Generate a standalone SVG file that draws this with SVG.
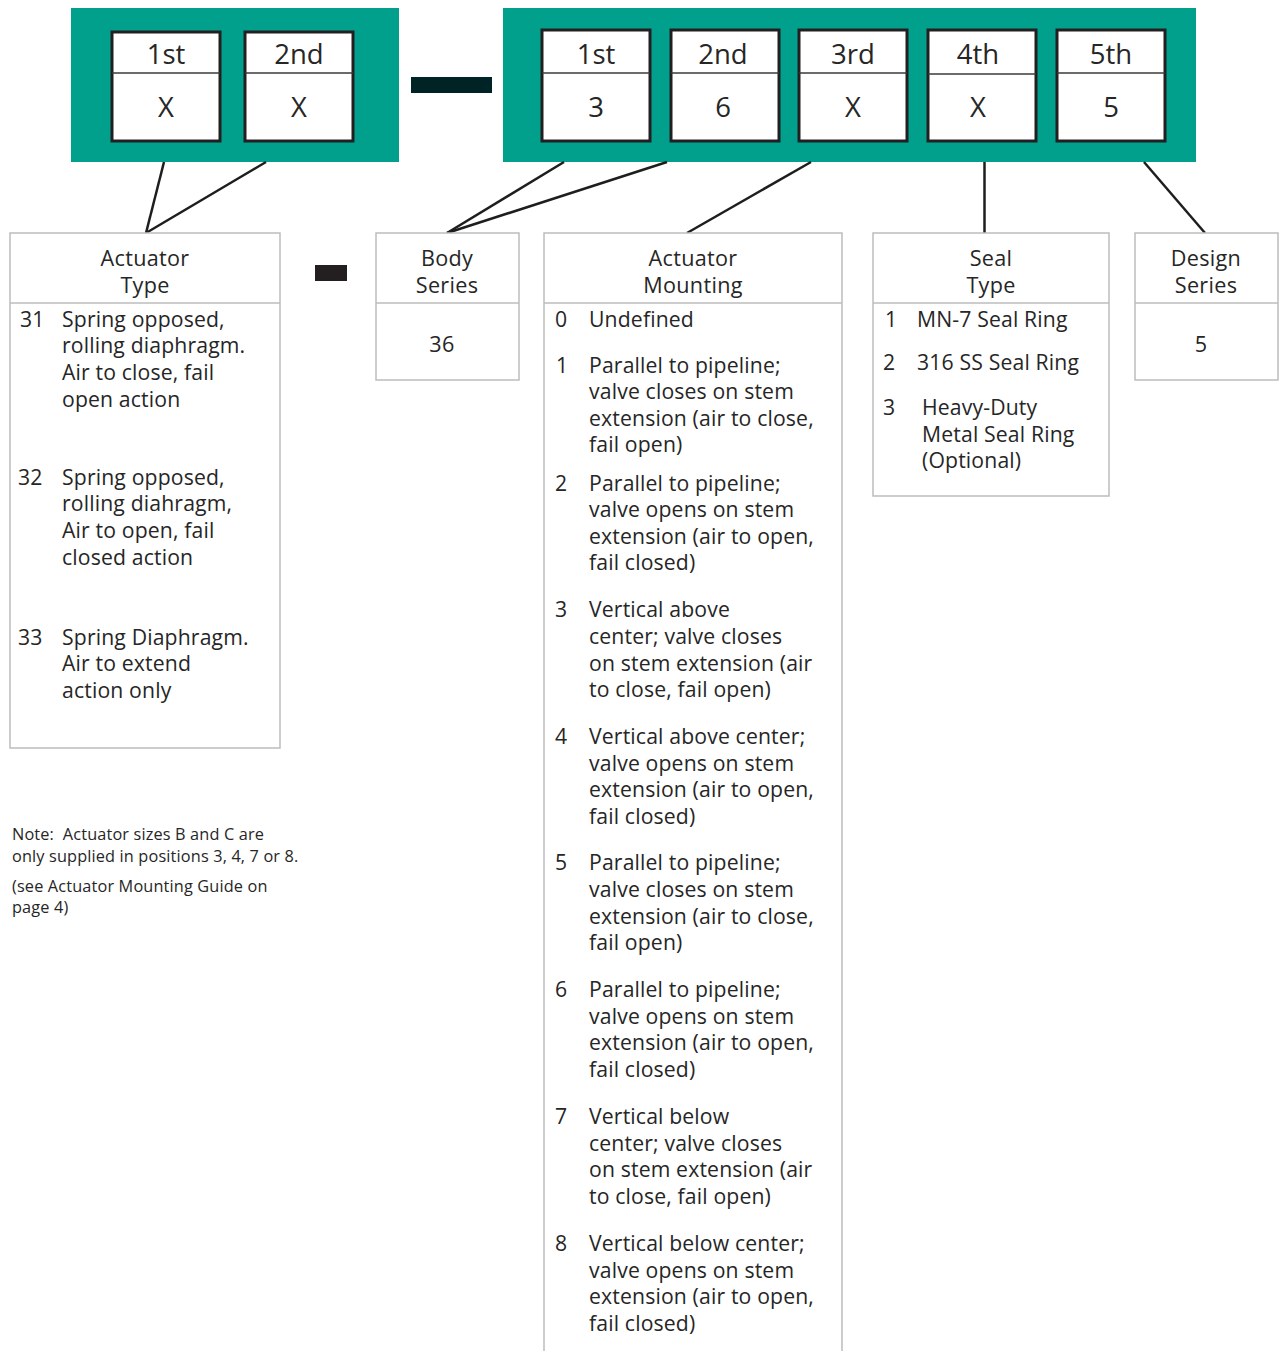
<svg xmlns="http://www.w3.org/2000/svg" width="1280" height="1351" viewBox="0 0 1280 1351">
<style>
text{font-family:"Open Sans","Noto Sans",sans-serif;fill:#262626}
.t{font-size:21.2px;letter-spacing:0.15px}
.h{font-size:21.6px;letter-spacing:0.3px;text-anchor:middle}
.d{font-size:27.5px;text-anchor:middle}
.n{font-size:16.3px;letter-spacing:0.15px;white-space:pre}
.teal{fill:#00A08C}
.cell{fill:#fff;stroke:#231f20;stroke-width:3}
.cdiv{stroke:#3a3a3a;stroke-width:1.3}
.box{fill:#fff;stroke:#bdbdbd;stroke-width:1.5}
.con{stroke:#1e1e1e;stroke-width:2.5;fill:none}
</style>
<rect width="1280" height="1351" fill="#fff"/>
<g id="code-left">
<rect class="teal" x="71" y="8" width="328" height="154"/>
<rect class="cell" x="112" y="32" width="108" height="109"/><line class="cdiv" x1="112" y1="73" x2="220" y2="73"/>
<text class="d" x="166" y="64">1st</text><text class="d" x="166" y="117">X</text>
<rect class="cell" x="245" y="32" width="108" height="109"/><line class="cdiv" x1="245" y1="73" x2="353" y2="73"/>
<text class="d" x="299" y="64">2nd</text><text class="d" x="299" y="117">X</text>
</g>
<g id="dash-top"><rect x="411" y="77" width="81" height="16" fill="#002326"/></g>
<g id="code-right">
<rect class="teal" x="503" y="8" width="693" height="154"/>
<rect class="cell" x="542" y="30" width="108" height="111"/><line class="cdiv" x1="542" y1="73" x2="650" y2="73"/>
<text class="d" x="596" y="64">1st</text><text class="d" x="596" y="117">3</text>
<rect class="cell" x="671" y="30" width="108" height="111"/><line class="cdiv" x1="671" y1="73" x2="779" y2="73"/>
<text class="d" x="723" y="64">2nd</text><text class="d" x="723" y="117">6</text>
<rect class="cell" x="799" y="30" width="108" height="111"/><line class="cdiv" x1="799" y1="73" x2="907" y2="73"/>
<text class="d" x="853" y="64">3rd</text><text class="d" x="853" y="117">X</text>
<rect class="cell" x="928" y="30" width="108" height="111"/><line class="cdiv" x1="928" y1="74" x2="1036" y2="74"/>
<text class="d" x="978" y="64">4th</text><text class="d" x="978" y="117">X</text>
<rect class="cell" x="1057" y="30" width="108" height="111"/><line class="cdiv" x1="1057" y1="73" x2="1165" y2="73"/>
<text class="d" x="1111" y="64">5th</text><text class="d" x="1111" y="117">5</text>
</g>
<g id="connectors">
<line class="con" x1="164" y1="162" x2="146" y2="233"/>
<line class="con" x1="266" y1="162" x2="146" y2="233"/>
<line class="con" x1="564" y1="162" x2="447" y2="233"/>
<line class="con" x1="667" y1="162" x2="447" y2="233"/>
<line class="con" x1="811" y1="162" x2="687" y2="233"/>
<line class="con" x1="984.5" y1="162" x2="984.5" y2="233"/>
<line class="con" x1="1144" y1="162" x2="1205" y2="233"/>
</g>
<g id="actuator-type">
<rect class="box" x="10" y="233" width="270" height="515"/>
<line class="box" x1="10" y1="303" x2="280" y2="303"/>
<text class="h" x="145" y="266">Actuator</text><text class="h" x="145" y="293">Type</text>
<text class="t" x="20" y="327">31</text>
<text class="t" x="62" y="327">Spring opposed,</text>
<text class="t" x="62" y="353">rolling diaphragm.</text>
<text class="t" x="62" y="380">Air to close, fail</text>
<text class="t" x="62" y="407">open action</text>
<text class="t" x="18" y="485">32</text>
<text class="t" x="62" y="485">Spring opposed,</text>
<text class="t" x="62" y="511">rolling diahragm,</text>
<text class="t" x="62" y="538">Air to open, fail</text>
<text class="t" x="62" y="565">closed action</text>
<text class="t" x="18" y="645">33</text>
<text class="t" x="62" y="645">Spring Diaphragm.</text>
<text class="t" x="62" y="671">Air to extend</text>
<text class="t" x="62" y="698">action only</text>
</g>
<g id="dash-mid"><rect x="315" y="265" width="32" height="16" fill="#231f20"/></g>
<g id="body-series">
<rect class="box" x="376" y="233" width="143" height="147"/>
<line class="box" x1="376" y1="303" x2="519" y2="303"/>
<text class="h" x="447" y="266">Body</text><text class="h" x="447" y="293">Series</text>
<text class="h" x="442" y="352">36</text>
</g>
<g id="actuator-mounting">
<path class="box" d="M544,1351 V233 H842 V1351"/>
<line class="box" x1="544" y1="303" x2="842" y2="303"/>
<text class="h" x="693" y="266">Actuator</text><text class="h" x="693" y="293">Mounting</text>
<text class="t" x="555" y="327">0</text><text class="t" x="589" y="327">Undefined</text>
<text class="t" x="556" y="373">1</text>
<text class="t" x="589" y="373">Parallel to pipeline;</text>
<text class="t" x="589" y="399">valve closes on stem</text>
<text class="t" x="589" y="426">extension (air to close,</text>
<text class="t" x="589" y="452">fail open)</text>
<text class="t" x="555" y="491">2</text>
<text class="t" x="589" y="491">Parallel to pipeline;</text>
<text class="t" x="589" y="517">valve opens on stem</text>
<text class="t" x="589" y="544">extension (air to open,</text>
<text class="t" x="589" y="570">fail closed)</text>
<text class="t" x="555" y="617">3</text>
<text class="t" x="589" y="617">Vertical above</text>
<text class="t" x="589" y="644">center; valve closes</text>
<text class="t" x="589" y="671">on stem extension (air</text>
<text class="t" x="589" y="697">to close, fail open)</text>
<text class="t" x="555" y="744">4</text>
<text class="t" x="589" y="744">Vertical above center;</text>
<text class="t" x="589" y="771">valve opens on stem</text>
<text class="t" x="589" y="797">extension (air to open,</text>
<text class="t" x="589" y="824">fail closed)</text>
<text class="t" x="555" y="870">5</text>
<text class="t" x="589" y="870">Parallel to pipeline;</text>
<text class="t" x="589" y="897">valve closes on stem</text>
<text class="t" x="589" y="924">extension (air to close,</text>
<text class="t" x="589" y="950">fail open)</text>
<text class="t" x="555" y="997">6</text>
<text class="t" x="589" y="997">Parallel to pipeline;</text>
<text class="t" x="589" y="1024">valve opens on stem</text>
<text class="t" x="589" y="1050">extension (air to open,</text>
<text class="t" x="589" y="1077">fail closed)</text>
<text class="t" x="555" y="1124">7</text>
<text class="t" x="589" y="1124">Vertical below</text>
<text class="t" x="589" y="1151">center; valve closes</text>
<text class="t" x="589" y="1177">on stem extension (air</text>
<text class="t" x="589" y="1204">to close, fail open)</text>
<text class="t" x="555" y="1251">8</text>
<text class="t" x="589" y="1251">Vertical below center;</text>
<text class="t" x="589" y="1278">valve opens on stem</text>
<text class="t" x="589" y="1304">extension (air to open,</text>
<text class="t" x="589" y="1331">fail closed)</text>
</g>
<g id="seal-type">
<rect class="box" x="873" y="233" width="236" height="263"/>
<line class="box" x1="873" y1="303" x2="1109" y2="303"/>
<text class="h" x="991" y="266">Seal</text><text class="h" x="991" y="293">Type</text>
<text class="t" x="885" y="327">1</text><text class="t" x="917" y="327">MN-7 Seal Ring</text>
<text class="t" x="883" y="370">2</text><text class="t" x="917" y="370">316 SS Seal Ring</text>
<text class="t" x="883" y="415">3</text>
<text class="t" x="922" y="415">Heavy-Duty</text>
<text class="t" x="922" y="442">Metal Seal Ring</text>
<text class="t" x="922" y="468">(Optional)</text>
</g>
<g id="design-series">
<rect class="box" x="1135" y="233" width="143" height="147"/>
<line class="box" x1="1135" y1="303" x2="1278" y2="303"/>
<text class="h" x="1206" y="266">Design</text><text class="h" x="1206" y="293">Series</text>
<text class="h" x="1201" y="352">5</text>
</g>
<g id="note">
<text class="n" x="12" y="840">Note:  Actuator sizes B and C are</text>
<text class="n" x="12" y="862">only supplied in positions 3, 4, 7 or 8.</text>
<text class="n" x="12" y="892">(see Actuator Mounting Guide on</text>
<text class="n" x="12" y="913">page 4)</text>
</g>
</svg>
